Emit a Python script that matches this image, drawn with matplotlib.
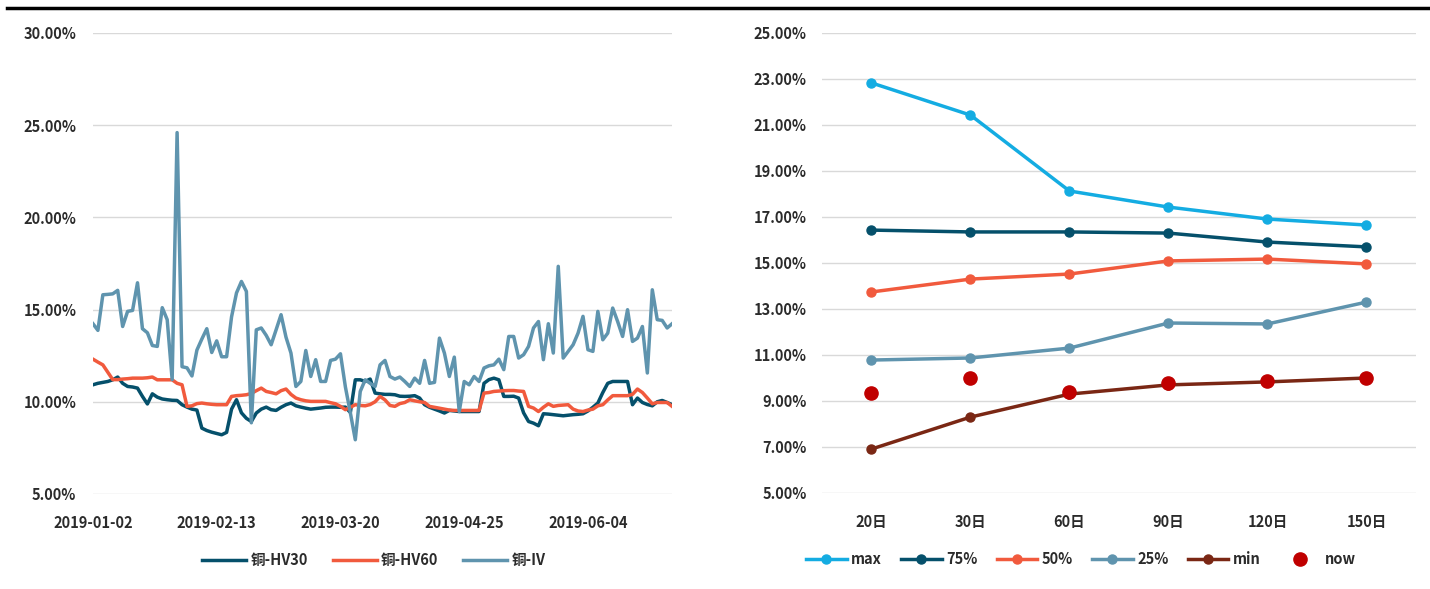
import matplotlib
matplotlib.use("Agg")
import matplotlib.pyplot as plt
from matplotlib.lines import Line2D
from matplotlib.ticker import FuncFormatter
import numpy as np

plt.rcParams['font.family'] = ['Noto Sans CJK SC', 'DejaVu Sans']

# left chart: copper volatility (%), trading days from 2019-01-02
tick_pos = [0, 25, 50, 75, 100]
tick_labels = ["2019-01-02", "2019-02-13", "2019-03-20", "2019-04-25", "2019-06-04"]

hv30 = [10.92, 11.0, 11.05, 11.1, 11.19, 11.34, 11.0, 10.83, 10.8, 10.74,
        10.29, 9.88, 10.43, 10.25, 10.15, 10.11, 10.08, 10.07, 9.84, 9.71,
        9.6, 9.55, 8.57, 8.44, 8.35, 8.28, 8.21, 8.34, 9.6, 10.11,
        9.4, 9.1, 8.93, 9.39, 9.6, 9.71, 9.57, 9.53, 9.7, 9.84,
        9.93, 9.78, 9.71, 9.65, 9.6, 9.63, 9.66, 9.7, 9.71, 9.71,
        9.7, 9.71, 9.42, 11.19, 11.19, 11.1, 11.23, 10.47, 10.43, 10.4,
        10.4, 10.38, 10.3, 10.29, 10.3, 10.33, 10.2, 9.84, 9.7, 9.6,
        9.5, 9.39, 9.53, 9.5, 9.47, 9.47, 9.47, 9.47, 9.47, 11.0,
        11.2, 11.28, 11.19, 10.29, 10.29, 10.3, 10.2, 9.4, 8.93, 8.84,
        8.7, 9.35, 9.33, 9.3, 9.27, 9.24, 9.27, 9.3, 9.32, 9.35,
        9.5, 9.7, 9.93, 10.5, 11.0, 11.1, 11.1, 11.1, 11.1, 9.84,
        10.2, 9.96, 9.85, 9.78, 10.0, 10.07, 9.96, 9.84]

hv60 = [12.31, 12.15, 12.0, 11.6, 11.2, 11.2, 11.23, 11.25, 11.28, 11.28,
        11.28, 11.3, 11.34, 11.19, 11.19, 11.19, 11.19, 11.0, 10.92, 9.75,
        9.78, 9.9, 9.93, 9.89, 9.86, 9.84, 9.84, 9.84, 10.29, 10.33,
        10.35, 10.38, 10.45, 10.6, 10.74, 10.56, 10.5, 10.43, 10.6, 10.69,
        10.4, 10.2, 10.11, 10.05, 10.02, 10.02, 10.02, 10.02, 9.95, 9.89,
        9.75, 9.57, 9.7, 9.84, 9.8, 9.78, 9.85, 10.0, 10.29, 10.1,
        9.8, 9.75, 9.9, 9.96, 10.11, 10.05, 10.0, 9.96, 9.75, 9.7,
        9.65, 9.6, 9.55, 9.53, 9.53, 9.53, 9.53, 9.53, 9.53, 10.47,
        10.5, 10.56, 10.58, 10.6, 10.61, 10.61, 10.58, 10.56, 9.75, 9.66,
        9.47, 9.7, 9.89, 9.75, 9.8, 9.82, 9.84, 9.6, 9.5, 9.47,
        9.55, 9.6, 9.78, 9.84, 10.1, 10.33, 10.33, 10.33, 10.33, 10.4,
        10.69, 10.5, 10.2, 9.89, 9.96, 9.96, 9.96, 9.75]

iv = [14.23, 13.87, 15.8, 15.82, 15.85, 16.04, 14.08, 14.9, 14.95, 16.45,
      13.96, 13.74, 13.05, 13.0, 15.1, 14.45, 11.2, 24.59, 11.9, 11.84,
      11.4, 12.8, 13.4, 13.96, 12.67, 13.3, 12.44, 12.44, 14.6, 15.9,
      16.52, 15.98, 8.86, 13.9, 14.0, 13.6, 13.09, 13.9, 14.72, 13.5,
      12.64, 10.83, 11.1, 12.78, 11.37, 12.28, 11.1, 11.1, 12.24, 12.31,
      12.6, 10.8, 9.4, 7.94, 10.56, 11.19, 11.0, 10.83, 12.0, 12.24,
      11.37, 11.23, 11.34, 11.1, 10.83, 11.28, 11.0, 12.24, 11.0, 11.05,
      13.45, 12.64, 11.37, 12.42, 9.47, 11.1, 10.92, 11.37, 11.1, 11.83,
      11.95, 12.0, 12.31, 11.74, 13.54, 13.54, 12.37, 12.55, 13.0, 14.0,
      14.35, 12.28, 14.23, 12.64, 17.34, 12.37, 12.73, 13.09, 13.72, 14.63,
      12.82, 12.73, 14.9, 13.36, 13.72, 15.08, 14.35, 13.54, 14.99, 13.27,
      13.45, 14.08, 11.56, 16.07, 14.45, 14.41, 14.0, 14.23]

# right chart: volatility cone (%)
windows = ["20日", "30日", "60日", "90日", "120日", "150日"]
cone_max = [22.83, 21.43, 18.13, 17.43, 16.91, 16.65]
cone_75 = [16.43, 16.35, 16.35, 16.30, 15.91, 15.70]
cone_50 = [13.74, 14.30, 14.52, 15.09, 15.17, 14.96]
cone_25 = [10.78, 10.87, 11.30, 12.39, 12.35, 13.30]
cone_min = [6.91, 8.30, 9.30, 9.70, 9.83, 10.00]
cone_now = [9.35, 10.00, 9.39, 9.78, 9.87, 10.00]

c_hv30 = "#05506B"
c_hv60 = "#F15A3D"
c_iv = "#5F94AE"
c_max = "#14ACE2"
c_min = "#7A2714"
c_now = "#C00000"
grid_c = "#D9D9D9"
txt_c = "#2B2B2B"
fw = "bold"

pct = FuncFormatter(lambda v, p: "%.2f%%" % v)

fig = plt.figure(figsize=(14.3, 5.89), dpi=100)
fig.add_artist(Line2D([0.005, 1.0], [0.987, 0.987], color="black", lw=2.5))


def style(ax):
    for s in ax.spines.values():
        s.set_visible(False)
    ax.yaxis.grid(True, color=grid_c, lw=1.0)
    ax.set_axisbelow(True)
    ax.tick_params(length=0, labelsize=10.5, colors=txt_c)
    ax.yaxis.set_major_formatter(pct)
    for lab in ax.get_xticklabels() + ax.get_yticklabels():
        lab.set_fontweight(fw)


# left
ax1 = fig.add_axes([0.065, 0.1613, 0.405, 0.783])
x = np.arange(len(iv))
ax1.plot(x, hv30, color=c_hv30, lw=2.5, label="铜-HV30")
ax1.plot(x, hv60, color=c_hv60, lw=2.5, label="铜-HV60")
ax1.plot(x, iv, color=c_iv, lw=2.5, label="铜-IV")
ax1.set_xlim(0, len(iv) - 1)
ax1.set_ylim(5, 30)
ax1.set_yticks(np.arange(5, 31, 5))
ax1.set_xticks(tick_pos)
ax1.set_xticklabels(tick_labels)
ax1.tick_params(axis="x", pad=15)
ax1.tick_params(axis="y", pad=12)
style(ax1)
leg1 = ax1.legend(loc="center", bbox_to_anchor=(0.485, -0.143), ncol=3, frameon=False,
                  handlelength=3.0, handletextpad=0.3, columnspacing=1.7,
                  prop={"size": 10.5, "weight": fw})

# right
ax2 = fig.add_axes([0.5748, 0.163, 0.4154, 0.781])
xc = np.arange(len(windows))
ax2.plot(xc, cone_max, color=c_max, lw=2.5, marker="o", ms=6.5, label="max")
ax2.plot(xc, cone_75, color=c_hv30, lw=2.5, marker="o", ms=6.5, label="75%")
ax2.plot(xc, cone_50, color=c_hv60, lw=2.5, marker="o", ms=6.5, label="50%")
ax2.plot(xc, cone_25, color=c_iv, lw=2.5, marker="o", ms=6.5, label="25%")
ax2.plot(xc, cone_min, color=c_min, lw=2.5, marker="o", ms=6.5, label="min")
ax2.plot(xc, cone_now, color=c_now, lw=0, marker="o", ms=9.5, label="now")
ax2.set_xlim(-0.5, len(windows) - 0.5)
ax2.set_ylim(5, 25)
ax2.set_yticks(np.arange(5, 26, 2))
ax2.set_xticks(xc)
ax2.set_xticklabels(windows)
ax2.tick_params(axis="x", pad=15)
ax2.tick_params(axis="y", pad=11)
style(ax2)
leg2 = ax2.legend(loc="center", bbox_to_anchor=(0.436, -0.143), ncol=6, frameon=False,
                  handlelength=2.8, handletextpad=0.3, columnspacing=1.3,
                  prop={"size": 10.5, "weight": fw})

for leg in (leg1, leg2):
    for t in leg.get_texts():
        t.set_color(txt_c)

fig.savefig("out.png", dpi=100)
